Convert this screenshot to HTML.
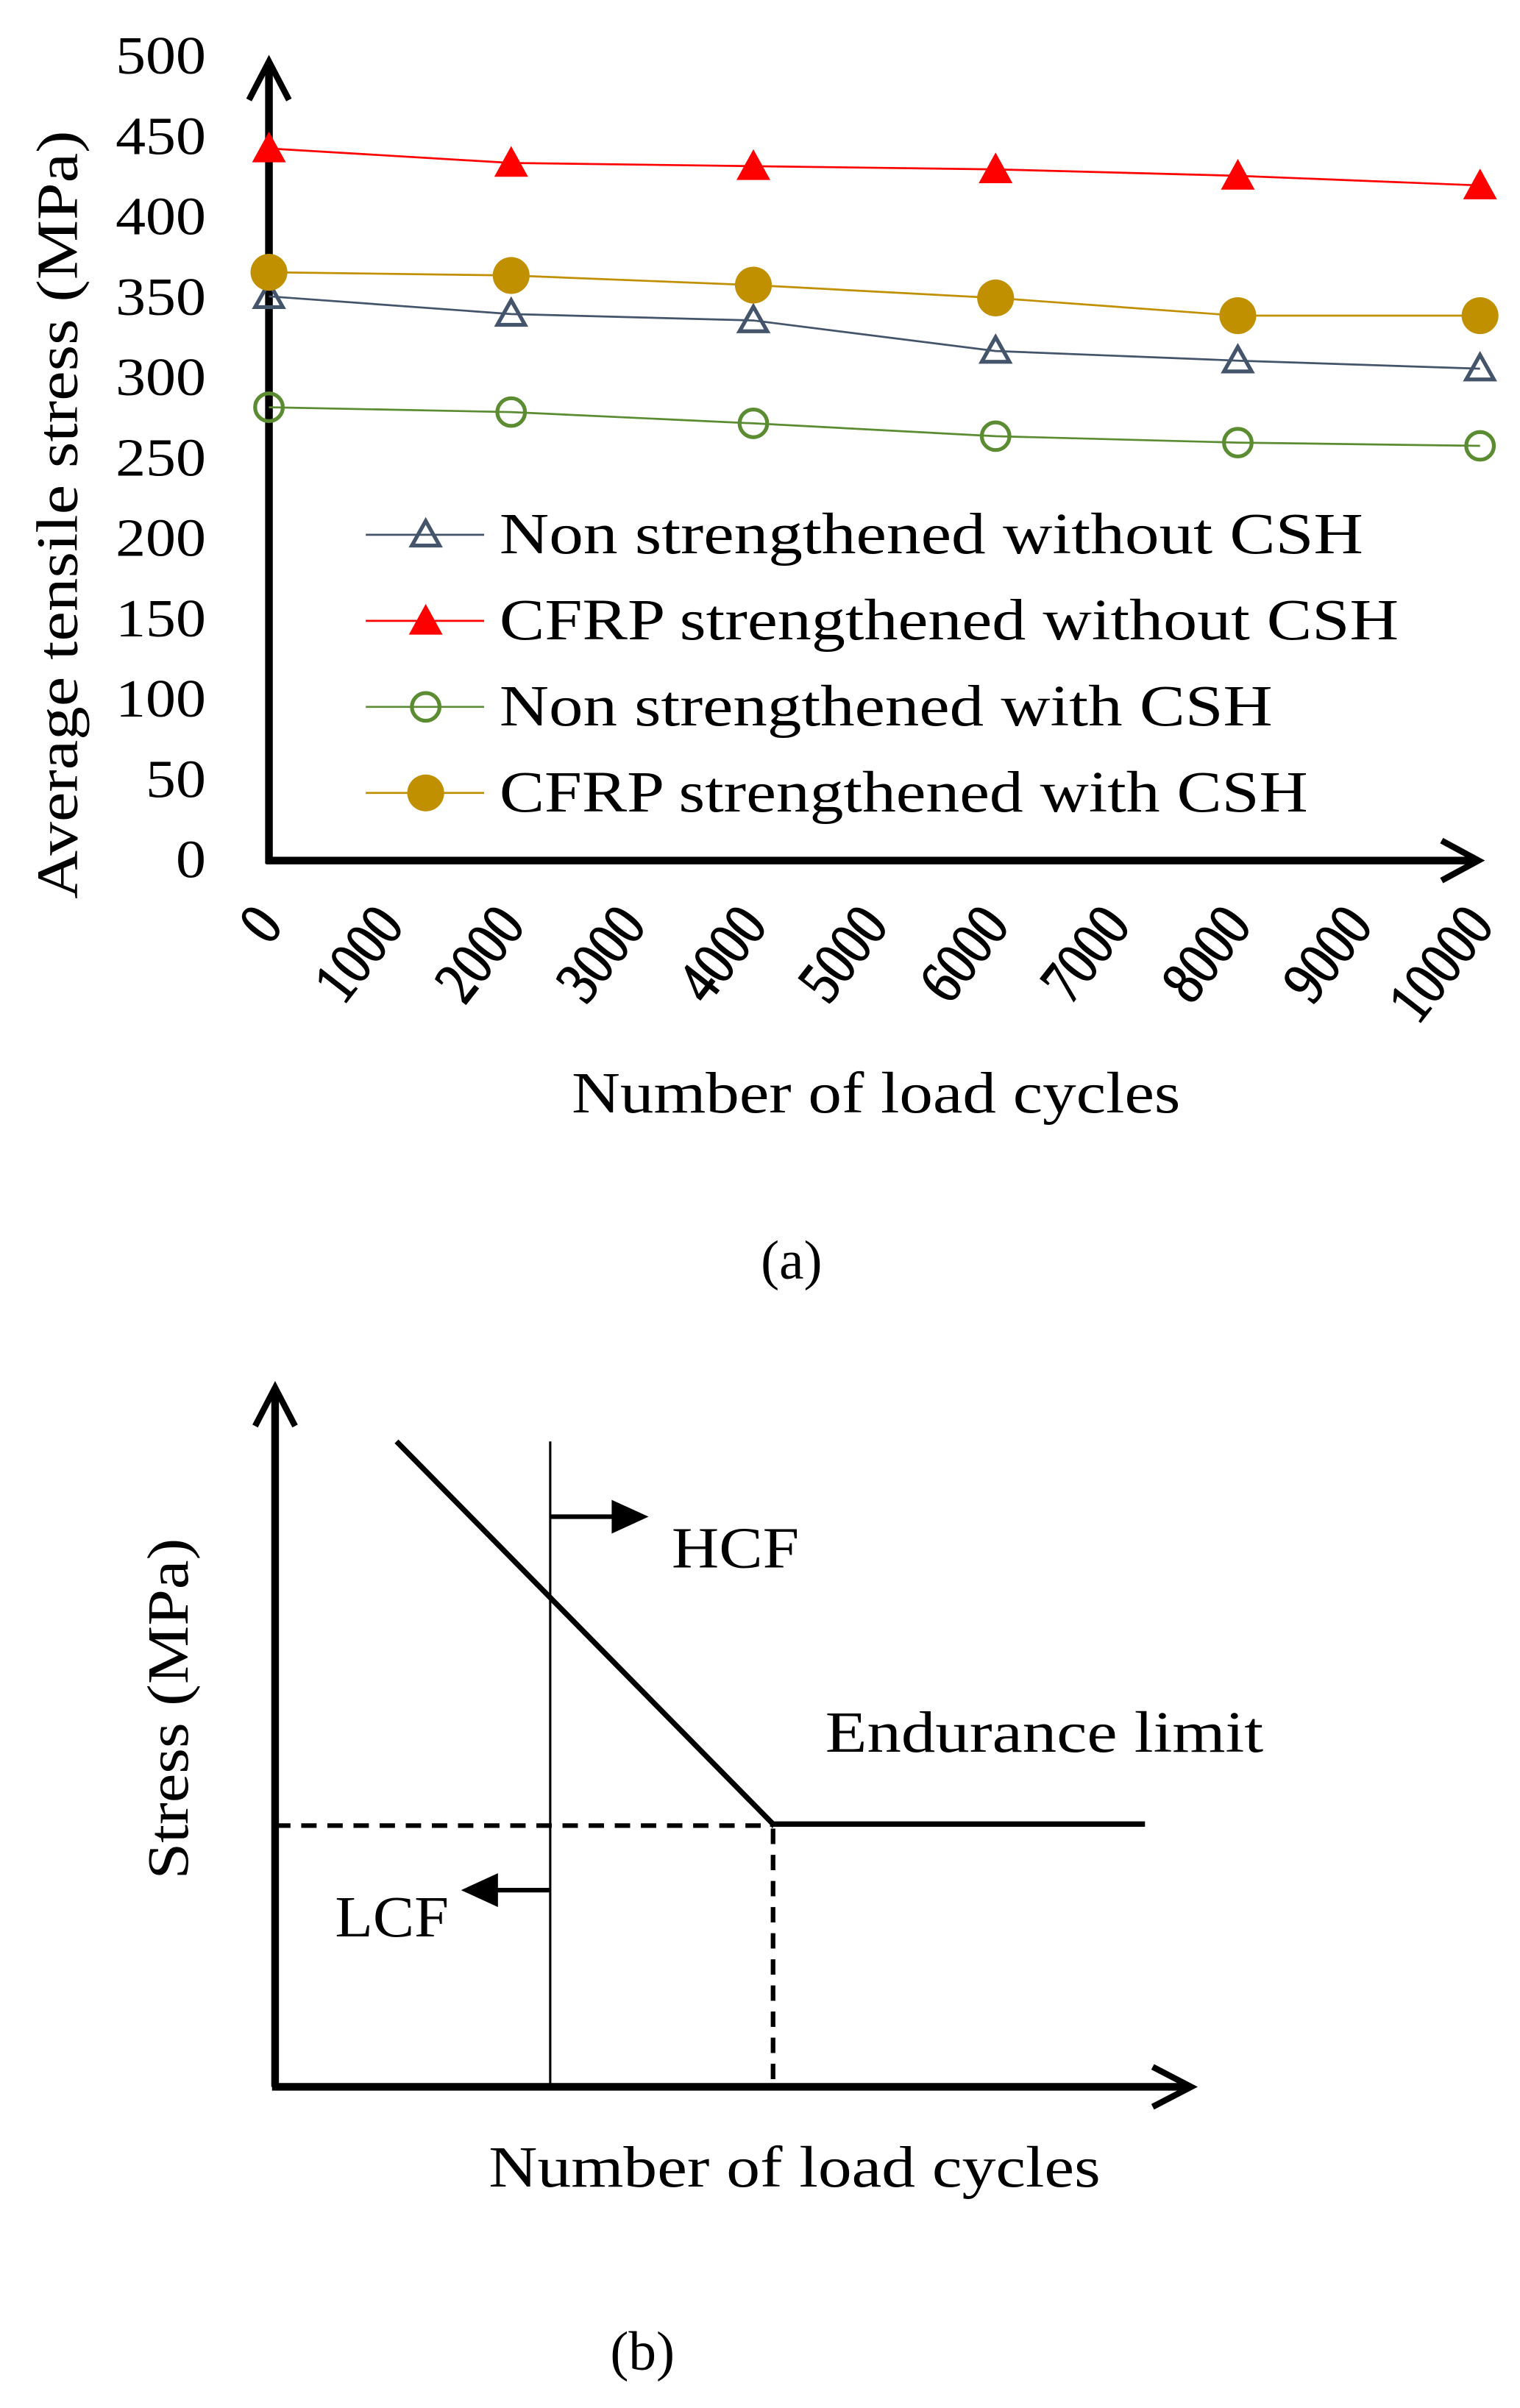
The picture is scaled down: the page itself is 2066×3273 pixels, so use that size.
<!DOCTYPE html>
<html><head><meta charset="utf-8"><style>
html,body{margin:0;padding:0;background:#fff}
svg{display:block}
text{font-family:"Liberation Serif",serif;fill:#000}
</style></head><body>
<svg id="fig" width="2066" height="3273" viewBox="0 0 989 1567" preserveAspectRatio="none" xmlns="http://www.w3.org/2000/svg">
<g id="chartA"></g>
<g id="chartB">
  <line x1="179" y1="1358" x2="179" y2="905" stroke="#000" stroke-width="5"/>
  <polyline points="166,928 179,903 192,928" fill="none" stroke="#000" stroke-width="4"/>
  <line x1="177" y1="1358" x2="773" y2="1358" stroke="#000" stroke-width="5"/>
  <polyline points="750,1345 775,1358 750,1371" fill="none" stroke="#000" stroke-width="4"/>
  <line x1="258" y1="938" x2="503" y2="1187" stroke="#000" stroke-width="3.5"/>
  <line x1="501" y1="1187" x2="745" y2="1187" stroke="#000" stroke-width="3.5"/>
  <line x1="179" y1="1188" x2="503" y2="1188" stroke="#000" stroke-width="3" stroke-dasharray="10,7"/>
  <line x1="503" y1="1190" x2="503" y2="1358" stroke="#000" stroke-width="3" stroke-dasharray="10,7"/>
  <line x1="358" y1="938" x2="358" y2="1358" stroke="#000" stroke-width="1.5"/>
  <line x1="358" y1="987" x2="405" y2="987" stroke="#000" stroke-width="3"/>
  <polygon points="398,976 422,987 398,998" fill="#000"/>
  <line x1="358" y1="1230" x2="318" y2="1230" stroke="#000" stroke-width="3"/>
  <polygon points="324,1219 300,1230 324,1241" fill="#000"/>
  <text x="437" y="1020" font-size="38" textLength="83" lengthAdjust="spacingAndGlyphs">HCF</text>
  <text x="537" y="1140" font-size="38" textLength="285" lengthAdjust="spacingAndGlyphs">Endurance limit</text>
  <text x="218" y="1260" font-size="38" textLength="74" lengthAdjust="spacingAndGlyphs">LCF</text>
  <text transform="translate(122,1112) rotate(-90)" text-anchor="middle" font-size="38" textLength="222" lengthAdjust="spacingAndGlyphs">Stress (MPa)</text>
  <text x="517" y="1423" text-anchor="middle" font-size="38" textLength="398" lengthAdjust="spacingAndGlyphs">Number of load cycles</text>
  <text x="418" y="1542" text-anchor="middle" font-size="36">(b)</text>
</g>
</svg>
<script>
const xCats = [0, 2000, 4000, 6000, 8000, 10000];
const xTicks = [0,1000,2000,3000,4000,5000,6000,7000,8000,9000,10000];
const yTicks = [0,50,100,150,200,250,300,350,400,450,500];
const nonWithout = [351, 340, 336, 317, 311, 306];
const cfrpWithout = [443, 434, 432, 430, 426, 420];
const nonWith = [282, 279, 272, 264, 260, 258];
const cfrpWith = [366, 364, 358, 350, 339, 339];
const seriesNames = ["Non strengthened without CSH","CFRP strengthened without CSH","Non strengthened with CSH","CFRP strengthened with CSH"];
const legendLens = [562, 585, 503, 526];

const NS="http://www.w3.org/2000/svg";
const g=document.getElementById('chartA');
const X0=175,X1=963,Y0=560,Y1=37;
const xs=v=>X0+(v-0)/10000*(X1-X0);
const ys=v=>Y0-(v/500)*(Y0-Y1);
function mk(tag,attrs,parent){const e=document.createElementNS(NS,tag);for(const k in attrs)e.setAttribute(k,attrs[k]);(parent||g).appendChild(e);return e;}

let e;
e=mk('line',{x1:X0,y1:Y0+2,x2:X0,y2:42,stroke:'#000','stroke-width':5});


e=mk('polyline',{points:`${X0-13},65 ${X0},40 ${X0+13},65`,fill:'none',stroke:'#000','stroke-width':4});


e=mk('line',{x1:X0-2,y1:Y0,x2:960,y2:Y0,stroke:'#000','stroke-width':5});


e=mk('polyline',{points:`938,547 962,${Y0} 938,573`,fill:'none',stroke:'#000','stroke-width':4});



yTicks.forEach(v=>{
  const t=mk('text',{x:134,y:ys(v)+11,'text-anchor':'end','font-size':35,transform:`translate(134,0) scale(1.12,1) translate(-134,0)`});
  t.textContent=v;
  
  
});
xTicks.forEach(v=>{
  const x=xs(v)+10,y=603;
  const t=mk('text',{x:0,y:0,'text-anchor':'end','font-size':40,'stroke':'#000','stroke-width':0.8,transform:`translate(${x},${y}) rotate(-52) scale(0.82,1)`});
  t.textContent=v;
  
  
});

const cfg=[
 {d:nonWithout,c:'#44546a',m:'triOpen'},
 {d:cfrpWithout,c:'#ff0000',m:'triFill'},
 {d:nonWith,c:'#5b8c32',m:'circOpen'},
 {d:cfrpWith,c:'#c09000',m:'circFill'}
];
function marker(type,x,y,c,parent){
  let m;
  if(type==='triOpen') m=mk('polygon',{points:`${x},${y-9} ${x-9},${y+7} ${x+9},${y+7}`,fill:'none',stroke:c,'stroke-width':2.5},parent);
  else if(type==='triFill') m=mk('polygon',{points:`${x},${y-11} ${x-11},${y+9} ${x+11},${y+9}`,fill:c},parent);
  else if(type==='circOpen') m=mk('circle',{cx:x,cy:y,r:9,fill:'none',stroke:c,'stroke-width':2.5},parent);
  else m=mk('circle',{cx:x,cy:y,r:12,fill:c},parent);
  return m;
}
cfg.forEach((s,i)=>{
  const sg=mk('g',{});
  
  
  const l=mk('polyline',{points:s.d.map((v,j)=>xs(xCats[j])+','+ys(v)).join(' '),fill:'none',stroke:s.c,'stroke-width':1.3},sg);
  
  
  s.d.forEach((v,j)=>{
    const m=marker(s.m,xs(xCats[j]),ys(v),s.c,sg);
    
    
  });
  const ly=348+i*56;
  const lg=mk('g',{});
  
  
  mk('line',{x1:238,y1:ly,x2:315,y2:ly,stroke:s.c,'stroke-width':1.3},lg);
  marker(s.m,277,ly,s.c,lg);
  const t=mk('text',{x:325,y:ly+12,'font-size':38,textLength:legendLens[i],lengthAdjust:'spacingAndGlyphs'},lg);
  t.textContent=seriesNames[i];
});

e=mk('text',{transform:'translate(50,335) rotate(-90)','text-anchor':'middle','font-size':38,textLength:500,lengthAdjust:'spacingAndGlyphs'});
e.textContent='Average tensile stress (MPa)';


e=mk('text',{x:570,y:724,'text-anchor':'middle','font-size':38,textLength:396,lengthAdjust:'spacingAndGlyphs'});
e.textContent='Number of load cycles';


e=mk('text',{x:515,y:832,'text-anchor':'middle','font-size':36});
e.textContent='(a)';


</script>
</body></html>
